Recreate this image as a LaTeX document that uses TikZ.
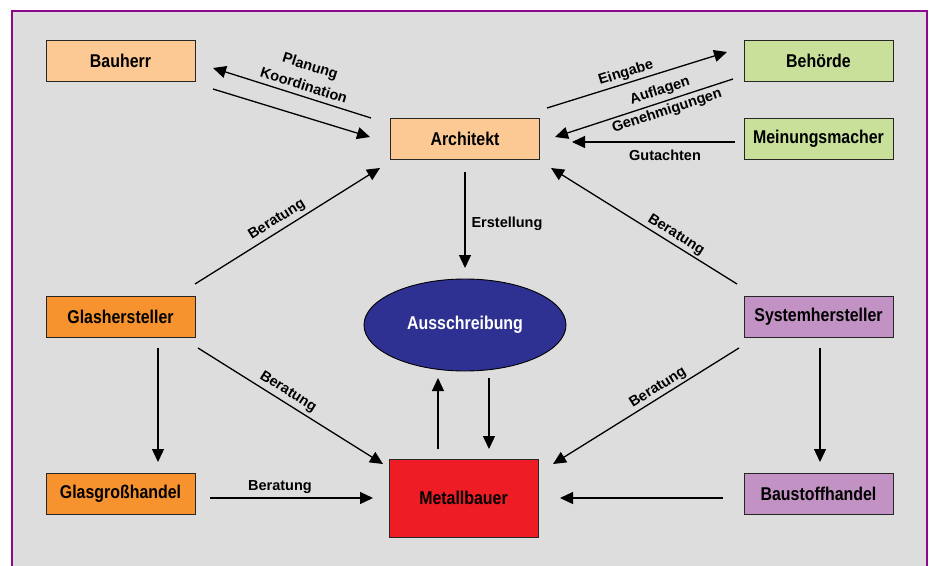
\documentclass[tikz,border=0pt]{standalone}
\usepackage{fontspec}
\setmainfont{Liberation Sans}
\newfontfamily\boxfont{Liberation Sans}[FakeStretch=0.86]
\usetikzlibrary{arrows.meta,shapes.geometric}
\definecolor{bgc}{HTML}{DDDDDD}
\definecolor{framec}{HTML}{8B0A8B}
\definecolor{peach}{HTML}{FCC894}
\definecolor{lgreen}{HTML}{C9E09B}
\definecolor{orng}{HTML}{F7932F}
\definecolor{lilac}{HTML}{C192C3}
\definecolor{redc}{HTML}{EE1C25}
\definecolor{navy}{HTML}{2E3192}
\tikzset{
  box/.style={draw=black!85, line width=0.9pt, minimum width=149pt, minimum height=41pt, inner sep=0pt,
    font=\boxfont\bfseries\fontsize{18.5}{20}\selectfont},
  arr/.style={line width=1.3pt, -{Triangle[length=13pt,width=12pt]}},
  lbl/.style={font=\bfseries\fontsize{14.5}{16}\selectfont, inner sep=0pt},
}
\begin{document}
\begin{tikzpicture}[x=1pt,y=-1pt]
\path[use as bounding box] (0,0) rectangle (933,565);
\clip (0,0) rectangle (933,565);
\fill[white] (0,0) rectangle (933,565);
\fill[bgc] (12,11) rectangle (927,580);
\draw[framec, line width=2.2pt] (12,11) rectangle (927,580);

% nodes
\node[box, fill=peach] (bauherr) at (120.5,60.5) {Bauherr};
\node[box, fill=peach] (arch) at (465,138.5) {Architekt};
\node[box, fill=lgreen] (behoerde) at (818.5,60.5) {Behörde};
\node[box, fill=lgreen] (meinung) at (818.5,139) {Meinungsmacher};
\node[box, fill=orng] (glash) at (120.5,316.5) {Glashersteller};
\node[box, fill=lilac] (sysh) at (818.5,316.5) {Systemhersteller};
\node[box, fill=orng] (glasg) at (120.5,493.5) {Glasgroßhandel};
\node[box, fill=lilac] (baust) at (818.5,493.5) {Baustoffhandel};
\node[box, fill=redc, minimum height=78pt] (metall) at (463.5,498) {Metallbauer};
\node[ellipse, draw=black, line width=0.9pt, fill=navy, minimum width=202pt, minimum height=92pt, inner sep=0pt,
  text=white, font=\boxfont\bfseries\fontsize{18.5}{20}\selectfont] (aus) at (465,325) {Ausschreibung};

% connector end points
\coordinate (a1s) at (371,118);  \coordinate (a1e) at (213,68);
\coordinate (a2s) at (213,89);   \coordinate (a2e) at (370,137);
\coordinate (a3s) at (547,108);  \coordinate (a3e) at (727,52);
\coordinate (a4s) at (733,79);   \coordinate (a4e) at (555,137);
\coordinate (a5s) at (735,142);  \coordinate (a5e) at (572,142);
\coordinate (a6s) at (465,172);  \coordinate (a6e) at (465,268);
\coordinate (a7s) at (195,284);  \coordinate (a7e) at (380,168);
\coordinate (a8s) at (737,284);  \coordinate (a8e) at (551,168);
\coordinate (a9s) at (198,348);  \coordinate (a9e) at (383,464);
\coordinate (a10s) at (739,348); \coordinate (a10e) at (553,464);
\coordinate (a11s) at (158,348); \coordinate (a11e) at (158,462);
\coordinate (a12s) at (820,348); \coordinate (a12e) at (820,462);
\coordinate (a13s) at (210,498); \coordinate (a13e) at (373,498);
\coordinate (a14s) at (723,498); \coordinate (a14e) at (560,498);
\coordinate (a15s) at (438,449); \coordinate (a15e) at (438,378);
\coordinate (a16s) at (489,378); \coordinate (a16e) at (489,449);

\draw[arr] (a1s) -- (a1e);
\draw[arr] (a2s) -- (a2e);
\draw[arr] (a3s) -- (a3e);
\draw[arr] (a4s) -- (a4e);
\draw[arr] (a5s) -- (a5e);
\draw[arr] (a6s) -- (a6e);
\draw[arr] (a7s) -- (a7e);
\draw[arr] (a8s) -- (a8e);
\draw[arr] (a9s) -- (a9e);
\draw[arr] (a10s) -- (a10e);
\draw[arr] (a11s) -- (a11e);
\draw[arr] (a12s) -- (a12e);
\draw[arr] (a13s) -- (a13e);
\draw[arr] (a14s) -- (a14e);
\draw[arr] (a15s) -- (a15e);
\draw[arr] (a16s) -- (a16e);

% labels
\node[lbl, rotate=-17.6] (lplan) at (310,67) {Planung};
\node[lbl, rotate=-17.6] (lkoord) at (304,85) {Koordination};
\node[lbl, rotate=17.3] (leing) at (626,73) {Eingabe};
\node[lbl, rotate=18] (lauf) at (660,91) {Auflagen};
\node[lbl, rotate=18] (lgen) at (667,111) {Genehmigungen};
\node[lbl] (lgut) at (665,155) {Gutachten};
\node[lbl] (lerst) at (507,224) {Erstellung};
\node[lbl, rotate=32] (lb1) at (277,220) {Beratung};
\node[lbl, rotate=-32] (lb2) at (676,235) {Beratung};
\node[lbl, rotate=-32] (lb3) at (288,392) {Beratung};
\node[lbl, rotate=32] (lb4) at (658,388) {Beratung};
\node[lbl] (lb5) at (280,487) {Beratung};
\end{tikzpicture}
\end{document}
